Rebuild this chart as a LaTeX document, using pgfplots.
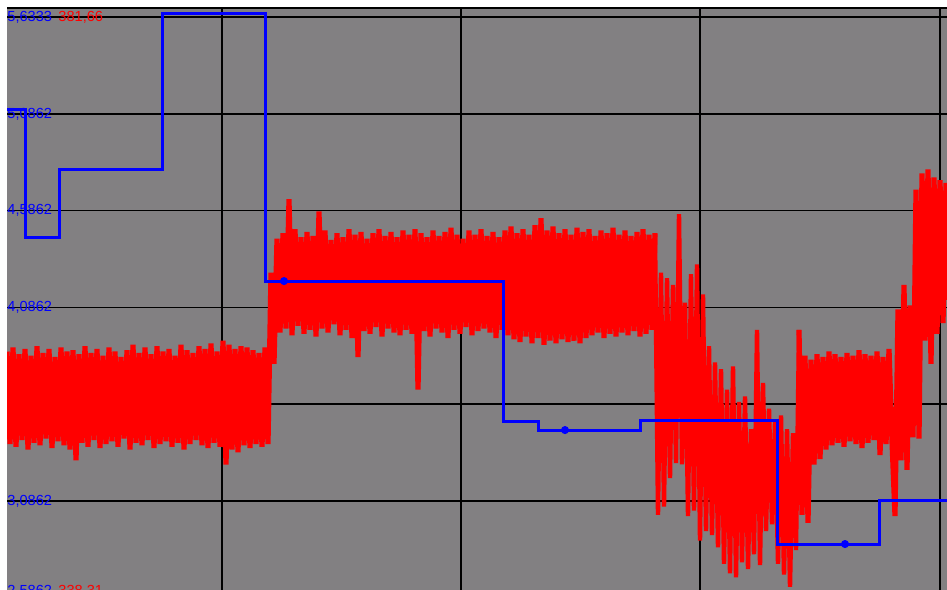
\documentclass[border=0pt]{standalone}
\usepackage{pgfplots}
\pgfplotsset{compat=1.18}
\usepackage{fontspec}
\setmainfont{Liberation Sans}
\definecolor{bg}{RGB}{130,128,130}
\definecolor{bl}{RGB}{0,0,255}
\definecolor{rd}{RGB}{255,0,0}
\pgfplotsset{base/.style={scale only axis, width=471.5pt, height=294.8pt,
  at={(3.5pt,-4.3pt)}, anchor=south west, xmin=7, xmax=950,
  xtick=\empty, ytick=\empty, axis line style={draw=none}}}
\begin{document}
\begin{tikzpicture}
\useasboundingbox (0,0) rectangle (473.5pt,294.5pt);
\clip (0,0) rectangle (473.5pt,294.5pt);
\begin{axis}[base, ymin=2.5862, ymax=5.6333, axis background/.style={fill=bg}]
\tikzset{gl/.style={black, line width=0.65pt}}
\foreach \gx in {222,461,700,940} {\edef\tmp{\noexpand\draw[gl] (axis cs:\gx,2.5862) -- (axis cs:\gx,5.6333);}\tmp}
\foreach \gy in {3.0862,3.5862,4.0862,4.5862,5.0862,5.5862} {\edef\tmp{\noexpand\draw[gl] (axis cs:7,\gy) -- (axis cs:950,\gy);}\tmp}
\draw[gl] (rel axis cs:0,1) -- (rel axis cs:1,1);
\tikzset{lab/.style={anchor=west, inner sep=0pt, font=\fontsize{7.3}{8}\selectfont}}
\node[lab, text=bl] at (axis cs:7,5.5862) {5,6333};
\node[lab, text=rd] at (axis cs:58,5.5862) {381,66};
\node[lab, text=bl] at (axis cs:7,5.0862) {5,0862};
\node[lab, text=bl] at (axis cs:7,4.5862) {4,5862};
\node[lab, text=bl] at (axis cs:7,4.0862) {4,0862};
\node[lab, text=bl] at (axis cs:7,3.5862) {3,5862};
\node[lab, text=bl] at (axis cs:7,3.0862) {3,0862};
\node[lab, text=bl] at (axis cs:7,2.62) {2,5862};
\node[lab, text=rd] at (axis cs:58,2.62) {338,31};
\end{axis}
\begin{axis}[base, ymin=338.31, ymax=381.66]
\addplot[rd, line width=2.6pt, line join=bevel, mark=none] table {
x y
7 356.4
10 349.6
13 356.7
16 349.4
19 356.2
22 349.9
25 356.6
28 349.2
31 356.1
34 349.7
37 356.8
40 349.5
43 356.3
46 350.0
49 356.6
52 349.3
55 356.0
58 349.8
61 356.7
64 349.5
67 356.4
70 349.2
73 356.5
76 348.4
79 356.2
82 349.7
85 356.8
88 349.4
91 356.3
94 349.9
97 356.6
100 349.3
103 356.1
106 349.6
109 356.7
112 349.8
115 356.4
118 349.4
121 356.0
124 350.0
127 356.5
130 349.2
133 356.9
136 349.7
139 356.3
142 349.5
145 356.7
148 349.9
151 356.2
154 349.3
157 356.8
160 349.6
163 356.4
166 349.8
169 356.6
172 349.4
175 356.1
178 349.7
181 356.9
184 349.2
187 356.5
190 349.6
193 356.3
196 349.9
199 356.8
202 349.5
205 356.6
208 349.3
211 357.0
214 349.7
217 356.4
220 349.4
223 357.2
226 348.1
229 356.9
232 349.2
235 356.6
238 349.0
241 356.8
244 349.5
247 356.7
250 349.3
253 356.5
256 349.6
259 356.3
262 349.4
265 356.7
268 349.6
271 362.2
274 355.5
277 364.7
280 357.8
283 365.1
286 358.1
289 367.6
292 357.6
295 365.4
298 358.3
301 364.8
304 357.7
307 365.2
310 358.0
313 364.9
316 357.5
319 366.7
322 358.1
325 365.3
328 357.8
331 364.6
334 358.4
337 365.1
340 357.6
343 364.8
346 358.0
349 365.4
352 357.4
355 365.0
358 356.0
361 365.2
364 357.9
367 364.7
370 357.7
373 365.1
376 358.2
379 365.4
382 357.5
385 364.9
388 358.1
391 365.2
394 357.8
397 364.8
400 357.6
403 365.3
406 358.0
409 365.0
412 357.7
415 365.4
418 353.6
421 365.1
424 357.9
427 364.8
430 357.5
433 365.3
436 358.1
439 364.9
442 357.8
445 365.2
448 357.4
451 365.5
454 358.0
457 365.0
460 357.7
463 364.7
466 358.2
469 365.3
472 357.6
475 365.0
478 357.9
481 365.4
484 358.1
487 364.9
490 357.8
493 365.2
496 357.4
499 364.8
502 358.0
505 365.3
508 357.6
511 365.6
514 357.3
517 365.1
520 357.1
523 365.4
526 357.5
529 365.0
532 357.0
535 365.7
538 357.4
541 366.2
544 356.9
547 365.3
550 357.2
553 365.6
556 357.0
559 365.1
562 357.3
565 365.4
568 357.1
571 365.0
574 357.2
577 365.5
580 357.0
583 365.2
586 357.4
589 365.4
592 357.6
595 364.9
598 357.8
601 365.3
604 357.4
607 365.1
610 357.7
613 365.5
616 357.5
619 365.0
622 357.8
625 365.3
628 357.6
631 364.9
634 357.9
637 365.2
640 357.5
643 365.4
646 357.7
649 365.0
652 358.0
655 365.1
};
\addplot[rd, line width=2.2pt, line join=bevel, mark=none] table {
x y
655 365.1
658 344.4
661 362.2
664 345.0
667 361.8
670 347.1
673 361.3
676 348.2
679 366.5
682 348.1
685 360.0
688 344.3
691 362.1
694 344.7
697 362.8
700 342.5
703 360.6
706 343.2
709 356.8
712 342.9
715 355.6
718 342.0
721 355.1
724 340.8
727 353.6
730 340.1
733 355.3
736 339.8
739 352.7
742 340.9
745 353.1
748 340.4
751 350.7
754 341.5
757 358.0
760 340.7
763 354.1
766 343.2
769 352.2
772 343.7
775 351.2
778 340.8
781 351.7
784 340.0
787 350.7
790 339.1
793 350.4
796 341.8
799 358.0
};
\addplot[rd, line width=2.6pt, line join=bevel, mark=none] table {
x y
799 358.0
802 344.4
805 356.1
808 343.8
811 355.8
814 348.1
817 356.2
820 348.5
823 356.0
826 349.2
829 356.4
832 349.5
835 356.2
838 349.7
841 356.0
844 349.4
847 356.3
850 349.8
853 356.1
856 349.6
859 356.5
862 349.3
865 356.2
868 349.7
871 356.1
874 349.9
877 356.4
880 348.8
883 356.0
886 349.6
889 356.6
892 349.8
895 344.3
898 359.5
901 348.4
904 361.3
907 347.7
910 359.8
913 350.1
916 368.3
919 350.0
922 369.5
925 357.2
928 369.8
931 355.5
934 369.2
937 357.7
940 369.0
943 358.5
946 368.8
949 360.2
};
\end{axis}
\begin{axis}[base, ymin=2.5862, ymax=5.6333]
\addplot[bl, line width=1.5pt, const plot, mark=none] coordinates {
(7,5.111) (25,4.445) (59,4.801) (162,5.607) (265,4.222) (503,3.494)
(538,3.452) (640,3.499) (777,2.863) (879,3.086) (950,3.086)};
\addplot[bl, only marks, mark=*, mark size=1.8pt] coordinates {
(284,4.222) (565,3.452) (845,2.863)};
\end{axis}
\end{tikzpicture}
\end{document}
